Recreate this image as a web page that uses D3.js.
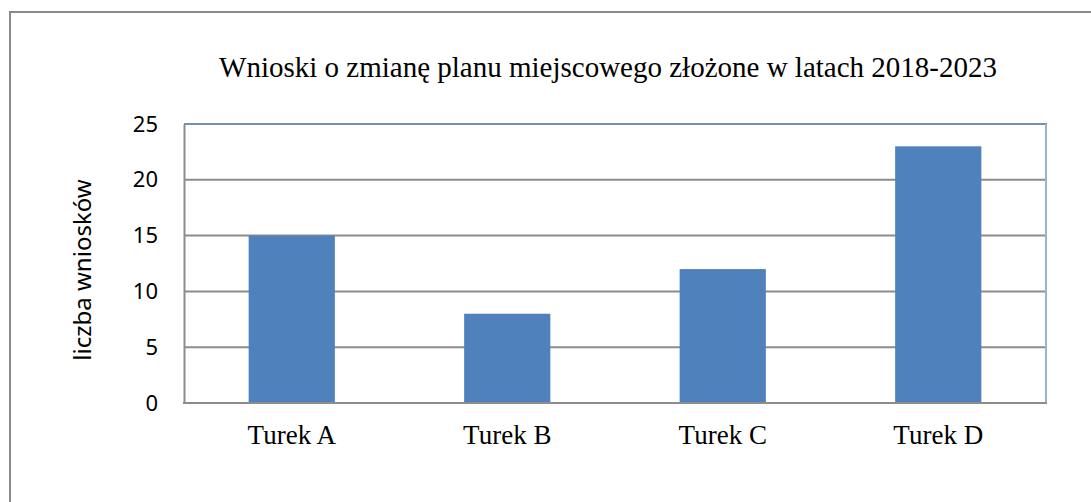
<!DOCTYPE html>
<html>
<head>
<meta charset="utf-8">
<script src="https://cdn.jsdelivr.net/npm/d3@7"></script>
<style>
html,body{margin:0;padding:0;background:#fff;}
svg{display:block;}
</style>
</head>
<body>
<svg id="chart" width="1091" height="502"></svg>
<script>
const categories = ["Turek A", "Turek B", "Turek C", "Turek D"];
const values = [15, 8, 12, 23];
const yTicks = [0, 5, 10, 15, 20, 25];
const title = "Wnioski o zmianę planu miejscowego złożone w latach 2018-2023";
const yTitle = "liczba wniosków";

const svg = d3.select("#chart");
const W = 1091, H = 502;
const plot = {left: 184, top: 124, right: 1046, bottom: 403};

// outer frame (top and left edges only visible)
svg.append("line").attr("x1", 10).attr("x2", W).attr("y1", 12).attr("y2", 12)
  .attr("stroke", "#8a8a8a").attr("stroke-width", 2);
svg.append("line").attr("x1", 10).attr("x2", 10).attr("y1", 11).attr("y2", H)
  .attr("stroke", "#8a8a8a").attr("stroke-width", 2);

const x = d3.scaleBand().domain(categories).range([plot.left, plot.right])
  .paddingInner(0.6).paddingOuter(0.3);
const y = d3.scaleLinear().domain([0, 25]).range([plot.bottom, plot.top]);

// gridlines
svg.append("g").selectAll("line").data(yTicks.filter(d => d > 0 && d < 25)).join("line")
  .attr("x1", plot.left).attr("x2", plot.right)
  .attr("y1", d => y(d)).attr("y2", d => y(d))
  .attr("stroke", "#8c8c8c").attr("stroke-width", 2);

// plot area top/right border
svg.append("line").attr("x1", plot.left).attr("x2", plot.right + 1)
  .attr("y1", plot.top).attr("y2", plot.top)
  .attr("stroke", "#7090b8").attr("stroke-width", 2);
svg.append("line").attr("x1", plot.right).attr("x2", plot.right)
  .attr("y1", plot.top).attr("y2", plot.bottom)
  .attr("stroke", "#95b3d7").attr("stroke-width", 2);

// bars
svg.append("g").selectAll("rect").data(values).join("rect")
  .attr("x", (d, i) => x(categories[i]))
  .attr("width", x.bandwidth())
  .attr("y", d => y(d))
  .attr("height", d => y(0) - y(d))
  .attr("fill", "#4F81BD");

// y axis
const yAxis = d3.axisLeft(y).tickValues(yTicks).tickSize(0).tickPadding(26);
const gy = svg.append("g").attr("transform", `translate(${plot.left},0)`).call(yAxis);
gy.select(".domain").attr("stroke", "#8c8c8c").attr("stroke-width", 2);
gy.selectAll("text").attr("font-family", "'Noto Sans', sans-serif").attr("font-size", 22)
  .attr("fill", "#000");

// x axis
const xAxis = d3.axisBottom(x).tickSize(0).tickPadding(22);
const gx = svg.append("g").attr("transform", `translate(0,${plot.bottom})`).call(xAxis);
gx.select(".domain").attr("stroke", "#8c8c8c").attr("stroke-width", 2)
  .attr("d", `M${plot.left - 1},0H${plot.right + 1}`);
gx.selectAll("text").attr("font-family", "'Liberation Serif', 'Times New Roman', serif")
  .attr("font-size", 27).attr("fill", "#000");

// title
svg.append("text").attr("x", 608).attr("y", 77).attr("text-anchor", "middle")
  .attr("font-family", "'Liberation Serif', 'Times New Roman', serif")
  .attr("font-size", 29).attr("fill", "#000").text(title);

// y title
svg.append("text").attr("transform", "translate(91,270) rotate(-90)")
  .attr("text-anchor", "middle")
  .attr("font-family", "'Noto Sans', sans-serif").attr("font-size", 24)
  .attr("fill", "#000").text(yTitle);
</script>
</body>
</html>
